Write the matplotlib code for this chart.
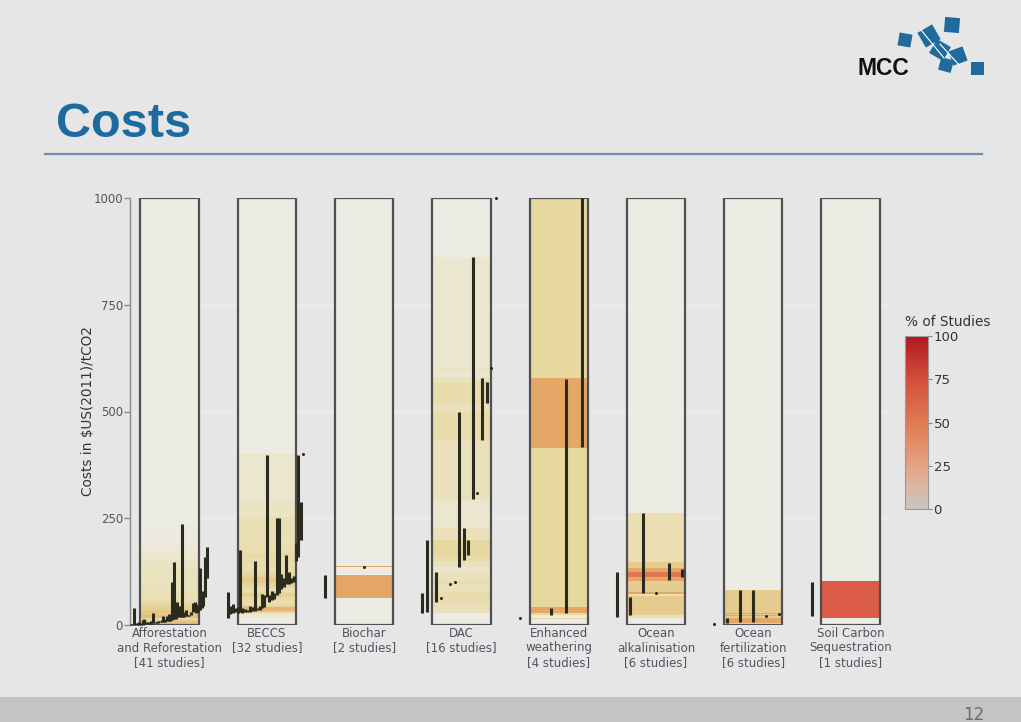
import numpy as np
import matplotlib
matplotlib.use("Agg")
import matplotlib.pyplot as plt
from matplotlib.colors import LinearSegmentedColormap, Normalize
from matplotlib.patches import Rectangle
import matplotlib.cm as cm

nan = np.nan

# ---------------- data ----------------
categories = ["Afforestation\nand Reforestation", "BECCS", "Biochar", "DAC",
              "Enhanced\nweathering", "Ocean\nalkalinisation", "Ocean\nfertilization",
              "Soil Carbon\nSequestration"]
n_studies = [41, 32, 2, 16, 4, 6, 6, 1]

afforestation_low = [0, 0, 0, 0, 0, 0, 1, 1, 2, 2, 2, 3, 3, 4, 4, 5, 5, 6, 6, 8, 8, 10, 10, 10, 12,
                     15, 15, 18, 18, 18, 19, 19, 20, 20, 21, 24, 30, 32, 28, 30, 35, 40, 45, 66, 110]
afforestation_high = [2, 3, 40, 5, 4, 6, 5, 12, 15, 8, 6, 5, 10, 28, 8, 8, 10, 9, 12, 20, 14, 22, 25, 18, 100,
                      148, 30, 55, 45, 40, 236, 30, 35, 24, 23, 30, 52, 55, 50, 45, 133, 60, 80, 160, 183]

beccs_low = [16, 25, 28, 30, 28, 30, 28, 30, 30, 31, 32, 33, 34, 36, 40, 42,
             66, 55, 58, 62, 70, 75, 85, 88, 95, 95, 98, 100, 150, 160, 200, 400]
beccs_high = [77, 45, 50, 40, 42, 175, 40, 38, 36, 45, 42, 150, 40, 45, 72, 70,
              398, 70, 80, 75, 250, 250, 120, 110, 165, 125, 110, 115, 192, 398, 288, 400]

biochar_low = [63, 136]
biochar_high = [117, 136]

dac_low = [28, 30, nan, 54, 63, nan, 96, 100, 136, 152, 164, 295, 309, 433, 520, 602, 1000]
dac_high = [75, 199, nan, 124, 63, nan, 96, 100, 499, 227, 199, 862, 309, 578, 569, 602, 1000]

weathering_low = [16, nan, 23, 28, 417]
weathering_high = [16, nan, 40, 576, 1000]

alkalinisation_low = [19, 23, 75, 75, 105, 113]
alkalinisation_high = [124, 66, 262, 75, 145, 131]

fertilization_low = [2, 5, 7, 7, 21, 26]
fertilization_high = [2, 16, 82, 82, 21, 26]

soil_low = [20]
soil_high = [100]

y_ticks = [0, 250, 500, 750, 1000]
cbar_ticks = [0, 25, 50, 75, 100]

lows = [afforestation_low, beccs_low, biochar_low, dac_low, weathering_low,
        alkalinisation_low, fertilization_low, soil_low]
highs = [afforestation_high, beccs_high, biochar_high, dac_high, weathering_high,
         alkalinisation_high, fertilization_high, soil_high]

# ---------------- styling ----------------
BG = "#e6e6e6"
heat_cmap = LinearSegmentedColormap.from_list("heat", [
    (0.00, "#ecebe4"), (0.03, "#ece9dc"), (0.08, "#ebe5c8"), (0.15, "#eadfb5"),
    (0.25, "#e7d8a0"), (0.35, "#e6c98a"), (0.50, "#e4a865"), (0.67, "#e07552"),
    (1.00, "#db5d47")])
bar_cmap = LinearSegmentedColormap.from_list("bar", [
    (0.00, "#c8c6c4"), (0.12, "#d9b8a6"), (0.25, "#e5a383"), (0.50, "#e07a52"),
    (0.75, "#d24f3c"), (1.00, "#b2161f")])
norm = Normalize(0, 100)

W, H = 1021, 722
fig = plt.figure(figsize=(W / 100, H / 100), dpi=100, facecolor=BG)

# overlay for slide decorations (pixel coordinates)
deco = fig.add_axes([0, 0, 1, 1], zorder=0)
deco.set_xlim(0, W)
deco.set_ylim(H, 0)
deco.axis("off")
deco.add_patch(Rectangle((0, 697), W, 25, color="#c4c4c4", lw=0))
deco.plot([45, 982], [154, 154], color="#6f8fae", lw=1.6)
deco.text(56, 137, "Costs", fontsize=35, fontweight="bold", color="#1d6b9e",
          family="Liberation Sans", va="baseline", ha="left")
deco.text(857, 75, "MCC", fontsize=16.5, fontweight="bold", color="#111111",
          family="Liberation Sans", va="baseline", ha="left")
logo = [(905, 40, 13, 10), (929, 36, 17, -30), (952, 25, 15, 5), (940, 50, 16, 30),
        (958, 56, 15, -20), (946, 65, 13, 15), (977, 68, 13, 0)]
for cx, cy, s, a in logo:
    deco.add_patch(Rectangle((cx - s / 2, cy - s / 2), s, s, angle=a,
                             rotation_point="center", color="#1f6b9c", lw=0))
deco.plot([921, 944], [30, 58], color="white", lw=0.8)
deco.plot([940, 960], [44, 66], color="white", lw=0.8)
deco.text(963, 720, "12", fontsize=12, color="#6b6b6b", va="baseline", ha="left")

# ---------------- main chart ----------------
ax = fig.add_axes([130 / W, 97 / H, 760 / W, 427 / H], zorder=2)
ax.set_facecolor("none")
ax.set_xlim(-0.406, 7.405)
ax.set_ylim(0, 1000)

for y in y_ticks[1:-1]:
    ax.axhline(y, color="#efefef", lw=0.9, zorder=0)

edges = np.arange(0, 1000 + 2.5, 2.5)
for i, (lo, hi) in enumerate(zip(lows, highs)):
    lo = np.asarray(lo, float)
    hi = np.asarray(hi, float)
    ok = ~np.isnan(lo)
    counts = np.array([np.sum((lo[ok] <= b1) & (hi[ok] >= b0))
                       for b0, b1 in zip(edges[:-1], edges[1:])])
    pct = np.clip(counts / n_studies[i] * 100, 0, 100)
    ax.pcolormesh([i - 0.3, i + 0.3], edges, pct[:, None], cmap=heat_cmap,
                  norm=norm, shading="flat", zorder=1)
    ax.add_patch(Rectangle((i - 0.3, 0), 0.6, 1000, fill=False, ec="#505050",
                           lw=1.6, zorder=3))
    n = len(lo)
    xs = i - 0.4 + np.arange(n) * 0.8 / n
    for x, a, b in zip(xs, lo, hi):
        if np.isnan(a):
            continue
        if b - a < 1:
            ax.plot([x], [a], "o", ms=2.2, color="#2a2a1e", mew=0, zorder=4, clip_on=False)
        else:
            ax.plot([x, x], [a, b], color="#2a2a1e", lw=2.2, solid_capstyle="butt",
                    zorder=4, clip_on=False)

for s in ["top", "right", "bottom"]:
    ax.spines[s].set_visible(False)
ax.spines["left"].set_color("#8a8a8a")
ax.spines["left"].set_linewidth(1)
ax.set_yticks(y_ticks)
ax.set_yticklabels([str(v) for v in y_ticks])
ax.tick_params(axis="y", length=4, width=1, color="#8a8a8a", pad=1,
               labelsize=8.5, labelcolor="#555555")
ax.set_xticks([])

# category labels, one text per line
for i, (c, n) in enumerate(zip(categories, n_studies)):
    lines = c.split("\n") + [f"[{n} studies]"]
    for j, line in enumerate(lines):
        ax.annotate(line, xy=(i, 0), xycoords=("data", "axes fraction"),
                    xytext=(0, -8.5 - 14.5 * j), textcoords="offset pixels",
                    ha="center", va="center", fontsize=8.5, color="#4d5560",
                    annotation_clip=False)

fig.text(88 / W, 1 - 411 / H, "Costs in \\$US(2011)/tCO2", rotation=90,
         fontsize=9.8, color="#333333", ha="center", va="center")

# ---------------- colour bar ----------------
cax = fig.add_axes([905 / W, 1 - 509 / H, 23 / W, 173 / H], zorder=2)
cb = fig.colorbar(cm.ScalarMappable(norm=norm, cmap=bar_cmap), cax=cax, ticks=cbar_ticks)
cb.outline.set_edgecolor("#9a9a9a")
cb.outline.set_linewidth(0.8)
cax.tick_params(length=3, width=0.8, color="#888888", labelsize=9.5,
                labelcolor="#333333", pad=1)
fig.text(905 / W, 1 - 322 / H, "% of Studies", fontsize=9.8, color="#333333",
         ha="left", va="center")

fig.savefig("out.png", dpi=100, facecolor=BG)
